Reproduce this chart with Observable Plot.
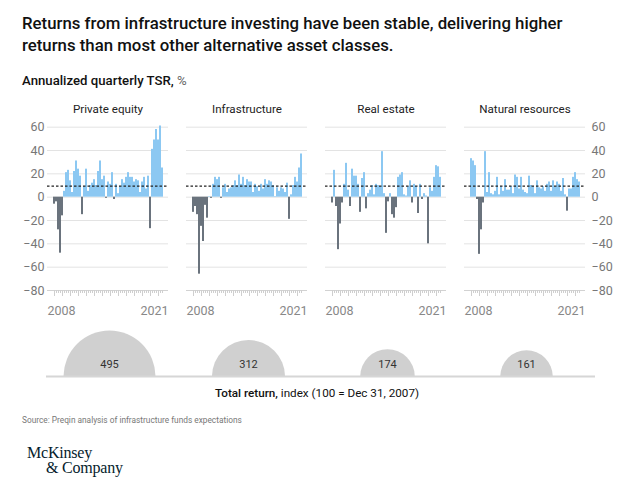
<!DOCTYPE html>
<html><head><meta charset="utf-8">
<script src="https://cdn.jsdelivr.net/npm/d3@7"></script>
<script src="https://cdn.jsdelivr.net/npm/@observablehq/plot@0.6"></script>
<style>
body{margin:0;background:#fff;font-family:Roboto,"Liberation Sans",sans-serif;}
#wrap{position:relative;width:640px;height:496px;overflow:hidden}
.title{position:absolute;left:22px;top:12px;width:610px;font-size:16.8px;font-weight:500;line-height:22px;color:#111}
.sub{position:absolute;left:22px;top:73px;font-size:13.2px;font-weight:500;color:#111}
.sub span{font-weight:400;color:#666}
#chart{position:absolute;left:0;top:91px}
#circles{position:absolute;left:0;top:322px}
.xlabel{position:absolute;left:0;width:634px;text-align:center;top:386px;font-size:11.7px;color:#111}
.xlabel b{font-weight:500}
.src{position:absolute;left:22px;top:415px;font-size:8.3px;color:#777}
.logo{position:absolute;left:27px;top:445px;font-family:"Liberation Serif","DejaVu Serif",serif;font-size:16px;line-height:15px;color:#051c2c;letter-spacing:-0.2px}
.logo div+div{padding-left:19px}
</style>
</head><body>
<div id="wrap">
<div class="title">Returns from infrastructure investing have been stable, delivering higher<br>returns than most other alternative asset classes.</div>
<div class="sub">Annualized quarterly TSR, <span>%</span></div>
<div id="chart"></div>
<div id="circles"></div>
<div class="xlabel"><b>Total return,</b> index (100 = Dec 31, 2007)</div>
<div class="src">Source: Preqin analysis of infrastructure funds expectations</div>
<div class="logo"><div>McKinsey</div><div>&amp; Company</div></div>
</div>
<script>
const categories = ["Private equity", "Infrastructure", "Real estate", "Natural resources"];
const years = [2008, 2009, 2010, 2011, 2012, 2013, 2014, 2015, 2016, 2017, 2018, 2019, 2020, 2021];
const quarterNames = ["Q1", "Q2", "Q3", "Q4"];
const quarters = [];
years.forEach(y => quarterNames.forEach(q => { if (quarters.length < 55) quarters.push(y + " " + q); }));

const privateEquity = [-6, -4, -28, -48, -16, 5, 21, 23, 14, 4, 22, 31, 24, 18, -15, 9, 24, 5, 10, 12, 15, 10, 22, 31, 15, 18, -1, 13, 11, 21, -2, 11, 3, 9, 15, 12, 17, 21, 17, 17, 13, 15, 14, 4, 13, 17, 7, 18, -27, 41, 49, 58, 49, 61, 25];
const infrastructure = [-13, -8, -15, -66, -25, -38, -7, -18, 0.5, -1, 11, 17, 15, 17, -1, 8, 11, 4, 7, 8, 10, 14, 10, 19, 11, 17, 10, 15, 13, 13, 4, 11, 9, 5, 11, 7, 15, 11, 14, 13, 10, 0.5, 8, 5, 8, 7, 4, 12, -19, 2, 10, 17, 13, 25, 37];
const realEstate = [-5, 23, -8, -45, -23, -5, 11, 29, 6, -8, 24, 18, 18, 11, -13, 16, 21, -10, 3, 6, 10, 2, 11, 10, 9, 39, 3, -31, -4, 3, -15, -18, -9, 17, 19, 21, 2, 1, 9, 14, -5, 11, 9, -14, 11, -2, 3, 1, -40, 8, 5, 17, 27, 26, 17];
const naturalResources = [33, 31, 27, -2, -49, -28, -5, 39, 4, 21, 3, 2, 5, 17, 2, 9, 5, 15, 6, 6, 9, 3, 19, 17, 7, 17, 6, 4, 3, 18, 10, 9, 3, 14, 8, 7, 9, 5, 11, 13, 5, 14, 9, 13, 11, 5, 16, 2, -12, 7, 7, 17, 21, 15, 13];
const benchmark = [9.5];
const totalReturn = [495, 312, 174, 161];
const yTicks = [-80, -60, -40, -20, 0, 20, 40, 60];
const yearTicks = quarters.filter(q => q.endsWith("Q1"));
const startLabel = ["2008"];
const endLabel = ["2021"];

const series = [privateEquity, infrastructure, realEstate, naturalResources];
const rows = [];
series.forEach((vals, k) => vals.forEach((v, i) => rows.push({cat: categories[k], q: quarters[i], v, c: v < 0 ? "#6a737d" : "#8cc8f2"})));

const font = "Roboto, 'Liberation Sans', sans-serif";

const chart = Plot.plot({
  width: 640, height: 231,
  marginLeft: 46, marginRight: 54, marginTop: 31, marginBottom: 32,
  style: {fontFamily: font, fontSize: "12px", background: "transparent"},
  fx: {domain: categories, paddingInner: 0.13, paddingOuter: 0, axis: null, label: null},
  x: {domain: quarters, paddingInner: 0.2, paddingOuter: 0},
  y: {domain: [-80, 64]},
  color: {type: "identity"},
  marks: [
    Plot.gridY(yTicks, {stroke: "#e3e3e3", strokeOpacity: 1}),
    Plot.ruleY([-80], {stroke: "#d2d2d2"}),
    Plot.axisY(yTicks, {anchor: "left", tickSize: 0, tickPadding: 3, label: null, fill: "#777", fontSize: 12.5}),
    Plot.axisY(yTicks, {anchor: "right", tickSize: 0, tickPadding: 6, label: null, fill: "#777", fontSize: 12.5}),
    Plot.axisX(quarters, {tickSize: 3, tickFormat: () => "", stroke: "#cfcfcf", label: null}),
    Plot.axisX(yearTicks, {tickSize: 6, tickFormat: () => "", stroke: "#cfcfcf", label: null}),
    Plot.barY(rows, {fx: "cat", x: "q", y: "v", fill: "c"}),
    Plot.ruleY(benchmark, {stroke: "#222", strokeDasharray: "2.5,2", strokeWidth: 1.2}),
    Plot.text(categories, {fx: d => d, text: d => d, frameAnchor: "top", dy: -18, fill: "#222", fontSize: 11.6}),
    Plot.text(startLabel, {text: d => d, frameAnchor: "bottom-left", textAnchor: "start", dy: 24, fill: "#888", fontSize: 12.5}),
    Plot.text(endLabel, {text: d => d, frameAnchor: "bottom-right", textAnchor: "end", dy: 24, fill: "#888", fontSize: 12.5})
  ]
});
document.getElementById("chart").appendChild(chart);

const totals = categories.map((c, i) => ({cat: c, value: totalReturn[i]}));
const circles = Plot.plot({
  width: 640, height: 56,
  marginLeft: 46, marginRight: 45, marginTop: 0, marginBottom: 2,
  style: {fontFamily: font, background: "transparent"},
  x: {type: "point", domain: categories, range: [108, 527], padding: 0, axis: null},
  y: {domain: [0, 1], axis: null},
  r: {domain: [0, 495], range: [0, 46]},
  marks: [
    Plot.dot(totals, {x: "cat", frameAnchor: "bottom", r: "value", fill: "#d0d0d0", stroke: "none", clip: true}),
    Plot.ruleY([0], {stroke: "#d6d6d6", strokeWidth: 2}),
    Plot.text(totals, {x: "cat", frameAnchor: "bottom", dy: -9, text: d => String(d.value), fill: "#333", fontSize: 11})
  ]
});
document.getElementById("circles").appendChild(circles);
</script>
</body></html>
